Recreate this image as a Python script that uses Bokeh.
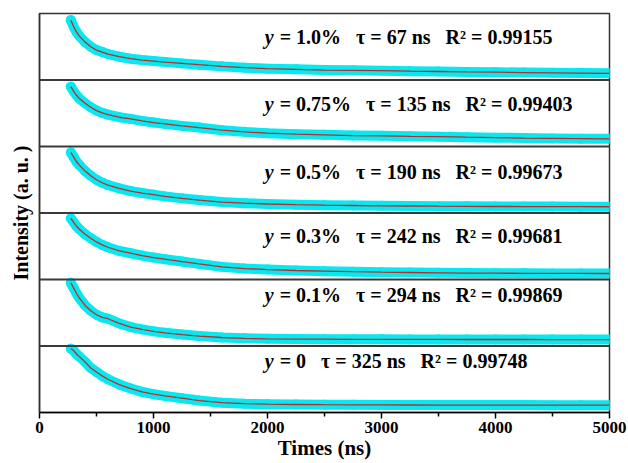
from bokeh.plotting import figure
from bokeh.models import Span, FixedTicker, Range1d, ColumnDataSource
from bokeh.core.properties import value
from bokeh.embed import file_html
from bokeh.resources import INLINE

# ---- data (intensity normalised to each panel) ----
times = [275, 300, 325, 350, 400, 450, 500, 550, 600, 700, 800, 900, 1000,
         1100, 1250, 1400, 1600, 1800, 2000, 2250, 2500, 2750, 3000, 3250,
         3500, 3750, 4000, 4250, 4500, 4750, 5000]

doping = ["1.0%", "0.75%", "0.5%", "0.3%", "0.1%", "0"]
tau_ns = [67, 135, 190, 242, 294, 325]
r_squared = ["0.99155", "0.99403", "0.99673", "0.99681", "0.99869", "0.99748"]

int_y10 = [0.90, 0.80, 0.72, 0.66, 0.57, 0.50, 0.45, 0.42, 0.39, 0.35, 0.32,
           0.30, 0.285, 0.27, 0.25, 0.23, 0.205, 0.185, 0.17, 0.16, 0.15,
           0.145, 0.14, 0.133, 0.128, 0.122, 0.117, 0.112, 0.108, 0.104, 0.10]
int_y075 = [0.90, 0.83, 0.77, 0.72, 0.65, 0.59, 0.54, 0.505, 0.48, 0.44, 0.415,
            0.385, 0.36, 0.34, 0.31, 0.285, 0.245, 0.22, 0.20, 0.185, 0.175,
            0.165, 0.16, 0.153, 0.148, 0.14, 0.133, 0.127, 0.122, 0.118, 0.115]
int_y05 = [0.91, 0.84, 0.77, 0.72, 0.63, 0.56, 0.50, 0.455, 0.42, 0.37, 0.33,
           0.30, 0.275, 0.25, 0.22, 0.195, 0.165, 0.148, 0.135, 0.125, 0.118,
           0.113, 0.108, 0.105, 0.102, 0.10, 0.098, 0.097, 0.096, 0.095, 0.094]
int_y03 = [0.92, 0.86, 0.80, 0.755, 0.68, 0.62, 0.565, 0.52, 0.485, 0.43, 0.395,
           0.36, 0.33, 0.305, 0.27, 0.235, 0.19, 0.165, 0.15, 0.135, 0.125,
           0.117, 0.11, 0.105, 0.10, 0.097, 0.095, 0.093, 0.092, 0.091, 0.09]
int_y01 = [0.95, 0.87, 0.79, 0.72, 0.61, 0.53, 0.47, 0.43, 0.41, 0.34, 0.285,
           0.25, 0.22, 0.198, 0.172, 0.15, 0.128, 0.115, 0.108, 0.104, 0.102,
           0.10, 0.10, 0.099, 0.099, 0.098, 0.098, 0.098, 0.097, 0.097, 0.097]
int_y0 = [0.96, 0.93, 0.88, 0.84, 0.76, 0.67, 0.61, 0.55, 0.50, 0.42, 0.36,
          0.31, 0.275, 0.25, 0.215, 0.18, 0.148, 0.132, 0.125, 0.12, 0.117,
          0.115, 0.114, 0.113, 0.112, 0.112, 0.111, 0.111, 0.11, 0.11, 0.11]

panels = [int_y10, int_y075, int_y05, int_y03, int_y01, int_y0]

# ---- figure ----
SERIF = "Liberation Serif"
CYAN = "#08E8F0"
RED = "#BE2A2A"

p = figure(width=627, height=462, output_backend="svg", toolbar_location=None,
           x_range=Range1d(0, 5000), y_range=Range1d(0, 6),
           min_border_left=39, min_border_right=18, min_border_top=13,
           min_border_bottom=0)
p.background_fill_color = "white"
p.border_fill_color = "white"
p.xgrid.visible = False
p.ygrid.visible = False
p.outline_line_color = "#333333"
p.outline_line_width = 1.5

n = len(panels)
label_pos = [0.64, 0.64, 0.62, 0.65, 0.76, 0.77]
for k, vals in enumerate(panels):
    off = n - 1 - k
    src = ColumnDataSource(dict(t=times, v=[v + off for v in vals]))
    p.line("t", "v", source=src, line_color=CYAN, line_width=10, line_cap="round",
           line_join="round")
    p.scatter("t", "v", source=src, size=10, fill_color=CYAN, line_color=None)
    p.line("t", "v", source=src, line_color=RED, line_width=1.3)
    if k > 0:
        p.add_layout(Span(location=off + 1, dimension="width",
                          line_color="#3a3a3a", line_width=2))
    ly = off + label_pos[k]
    p.text(x=[1975], y=[ly], text=["y"], text_font=value(SERIF),
           text_font_style="bold italic", text_font_size="20px",
           text_baseline="middle", text_align="left", text_color="black")
    rest = ("\u00a0=\u00a0" + doping[k] + "\u00a0\u00a0\u00a0\u03c4\u00a0=\u00a0"
            + str(tau_ns[k]) + "\u00a0ns\u00a0\u00a0\u00a0R\u00b2\u00a0=\u00a0"
            + r_squared[k])
    p.text(x=[1975], y=[ly], text=[rest], x_offset=10, text_font=value(SERIF),
           text_font_style="bold", text_font_size="20px",
           text_baseline="middle", text_align="left", text_color="black")

# x axis
xa = p.xaxis[0]
xa.ticker = FixedTicker(ticks=[0, 1000, 2000, 3000, 4000, 5000],
                        minor_ticks=[500, 1500, 2500, 3500, 4500])
xa.axis_label = "Times (ns)"
xa.axis_label_text_font = SERIF
xa.axis_label_text_font_style = "bold"
xa.axis_label_text_font_size = "21px"
xa.axis_label_text_color = "black"
xa.axis_label_standoff = 0
xa.major_label_text_font = SERIF
xa.major_label_text_font_style = "bold"
xa.major_label_text_font_size = "17px"
xa.major_label_text_color = "black"
xa.major_label_standoff = 3
xa.major_tick_in = 0
xa.major_tick_out = 6
xa.minor_tick_in = 0
xa.minor_tick_out = 4
xa.axis_line_color = "black"
xa.axis_line_width = 1.5
xa.major_tick_line_width = 1.5
xa.minor_tick_line_width = 1.5

# y axis
ya = p.yaxis[0]
ya.ticker = FixedTicker(ticks=[])
ya.major_label_text_font_size = "0px"
ya.major_tick_line_color = None
ya.minor_tick_line_color = None
ya.axis_line_color = "#333333"
ya.axis_line_width = 1.5
ya.axis_label = "Intensity (a. u. )"
ya.axis_label_text_font = SERIF
ya.axis_label_text_font_style = "bold"
ya.axis_label_text_font_size = "20px"
ya.axis_label_text_color = "black"
ya.axis_label_standoff = 8

open("out.html", "w").write(file_html(p, INLINE))
